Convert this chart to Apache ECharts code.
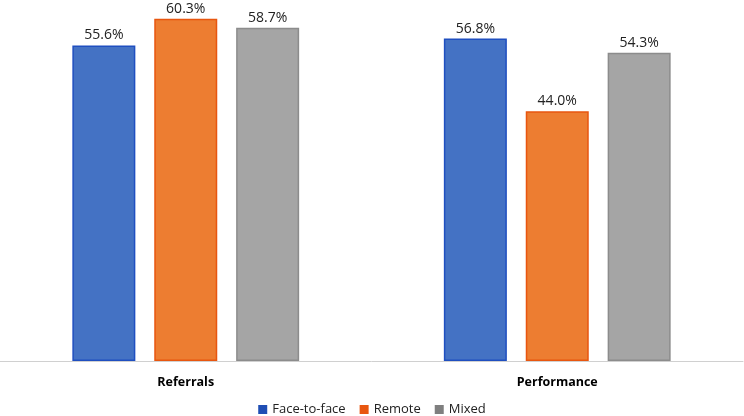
<!DOCTYPE html>
<html><head><meta charset="utf-8">
<script src="https://cdn.jsdelivr.net/npm/echarts@6/dist/echarts.min.js"></script>
<style>html,body{margin:0;padding:0;background:#fff}#c{width:744px;height:416px}</style>
</head><body><div id="c"></div>
<script>
const categories = ['Referrals', 'Performance'];
const seriesNames = ['Face-to-face', 'Remote', 'Mixed'];
const faceToFace = [55.6, 56.8];
const remote = [60.3, 44.0];
const mixed = [58.7, 54.3];

const fills = ['#4472C4', '#ED7D31', '#A5A5A5'];
const borders = ['#1F4FC0', '#E8560F', '#8C8C8C'];
const legendCols = ['#1F4EB4', '#E8560F', '#7F7F7F'];
const values = [faceToFace, remote, mixed];

const chart = echarts.init(document.getElementById('c'));
chart.setOption({
  animation: false,
  grid: { left: 0, right: 1, top: 0, bottom: 55, containLabel: false },
  legend: {
    bottom: -5, left: 'center', itemWidth: 9, itemHeight: 9, itemGap: 14,
    icon: 'rect',
    textStyle: { fontFamily: 'Open Sans', fontSize: 13, color: '#222' },
    data: seriesNames.map((n, i) => ({ name: n, itemStyle: { color: legendCols[i], borderWidth: 0 } }))
  },
  xAxis: {
    type: 'category', data: categories,
    axisLine: { lineStyle: { color: '#D0D0D0', width: 1 } },
    axisTick: { show: false },
    axisLabel: { fontFamily: 'Open Sans', fontWeight: 'bold', fontSize: 12.5, color: '#000', margin: 15 }
  },
  yAxis: { type: 'value', min: 0, max: 63.6, show: false, splitLine: { show: false } },
  series: seriesNames.map((n, i) => ({
    name: n, type: 'bar', data: values[i], barWidth: 63, barGap: '30%',
    itemStyle: { color: fills[i], borderColor: borders[i], borderWidth: 1.5 },
    label: {
      show: true, position: 'top', distance: 3, lineHeight: 14,
      formatter: p => p.value.toFixed(1) + '%',
      fontFamily: 'Open Sans', fontSize: 14, color: '#222'
    }
  }))
});
</script></body></html>
